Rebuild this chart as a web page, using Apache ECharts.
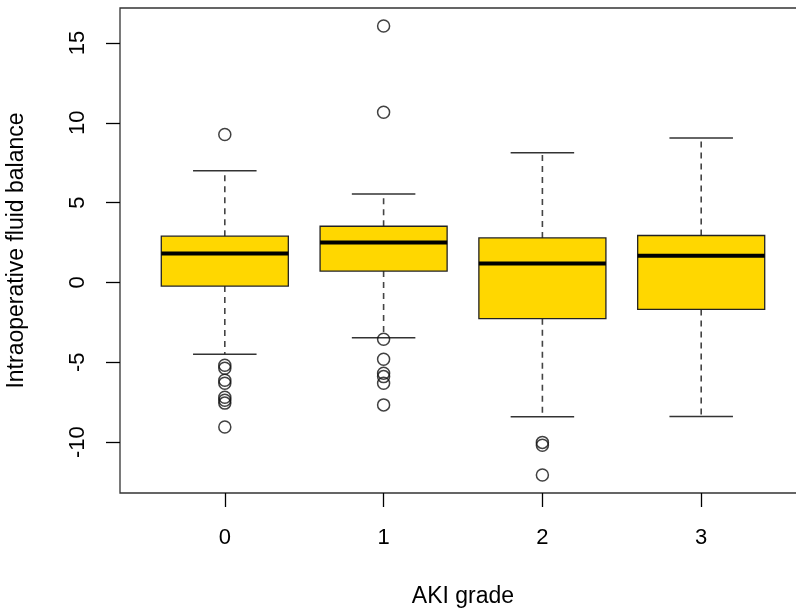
<!DOCTYPE html>
<html>
<head>
<meta charset="utf-8">
<script src="https://cdn.jsdelivr.net/npm/echarts@6/dist/echarts.min.js"></script>
<style>html,body{margin:0;padding:0;background:#fff;}#chart{width:796px;height:614px;}</style>
</head>
<body>
<div id="chart"></div>
<script>
// ---- data ----
const categories = ['0', '1', '2', '3'];
const lowerWhisker = [-4.5, -3.46, -8.42, -8.4];
const q1 = [-0.23, 0.71, -2.27, -1.69];
const median = [1.81, 2.5, 1.19, 1.67];
const q3 = [2.9, 3.52, 2.79, 2.94];
const upperWhisker = [7.0, 5.54, 8.13, 9.04];
const outliers0 = [9.27, -5.19, -5.38, -6.13, -6.31, -7.19, -7.38, -7.56, -9.06];
const outliers1 = [16.06, 10.66, -3.56, -4.81, -5.69, -5.9, -6.31, -7.67];
const outliers2 = [-10.02, -10.2, -12.06];
const outliers3 = [];
const yTicks = [-10, -5, 0, 5, 10, 15];
const xTicks = [0, 1, 2, 3];

const outlierGroups = [outliers0, outliers1, outliers2, outliers3];
const boxData = categories.map((c, i) => [i, lowerWhisker[i], q1[i], median[i], q3[i], upperWhisker[i]]);
const outlierData = [];
outlierGroups.forEach((g, i) => g.forEach(v => outlierData.push([i, v])));

const FONT = "'Liberation Sans', Arial, Helvetica, sans-serif";
const BOX_WIDTH = 0.8;

const chart = echarts.init(document.getElementById('chart'), null, {renderer: 'canvas'});
chart.setOption({
  backgroundColor: '#fff',
  animation: false,
  grid: {left: 120, top: 8, right: -10, bottom: 121, outerBoundsMode: 'none', containLabel: false,
    show: true, borderColor: '#333', borderWidth: 1.3, backgroundColor: 'transparent'},
  xAxis: {
    type: 'value', min: -0.66, max: 3.66,
    name: 'AKI grade', nameLocation: 'middle', nameGap: 92,
    nameTextStyle: {fontSize: 23, color: '#000', fontFamily: FONT},
    axisLine: {show: false, onZero: false},
    splitLine: {show: false},
    axisTick: {show: true, length: 14, customValues: xTicks, lineStyle: {color: '#000', width: 1.3}},
    axisLabel: {customValues: xTicks, margin: 34, fontSize: 22, color: '#000', fontFamily: FONT,
      formatter: v => categories[Math.round(v)]}
  },
  yAxis: {
    type: 'value', min: -13.19, max: 17.19,
    name: 'Intraoperative fluid balance', nameLocation: 'middle', nameGap: 92,
    nameTextStyle: {fontSize: 23, color: '#000', fontFamily: FONT},
    axisLine: {show: false, onZero: false},
    splitLine: {show: false},
    axisTick: {show: true, length: 14, customValues: yTicks, lineStyle: {color: '#000', width: 1.3}},
    axisLabel: {customValues: yTicks, rotate: 90, margin: 31, fontSize: 22, color: '#000', fontFamily: FONT}
  },
  series: [
    {
      type: 'custom',
      data: boxData,
      dimensions: ['x', 'low', 'q1', 'median', 'q3', 'high'],
      encode: {x: 0, y: [1, 2, 3, 4, 5]},
      renderItem: function (params, api) {
        const x = api.value(0);
        const lo = api.coord([x, api.value(1)]);
        const b1 = api.coord([x, api.value(2)]);
        const md = api.coord([x, api.value(3)]);
        const b3 = api.coord([x, api.value(4)]);
        const hi = api.coord([x, api.value(5)]);
        const bw = api.size([BOX_WIDTH, 0])[0];
        const cw = bw * 0.5;
        const cx = lo[0];
        const dash = {stroke: '#444', lineWidth: 1.6, lineDash: [6, 5]};
        const solid = {stroke: '#333', lineWidth: 1.5};
        return {
          type: 'group',
          children: [
            {type: 'line', shape: {x1: cx, y1: b3[1], x2: cx, y2: hi[1]}, style: dash},
            {type: 'line', shape: {x1: cx, y1: b1[1], x2: cx, y2: lo[1]}, style: dash},
            {type: 'line', shape: {x1: cx - cw / 2, y1: hi[1], x2: cx + cw / 2, y2: hi[1]}, style: solid},
            {type: 'line', shape: {x1: cx - cw / 2, y1: lo[1], x2: cx + cw / 2, y2: lo[1]}, style: solid},
            {type: 'rect', shape: {x: cx - bw / 2, y: b3[1], width: bw, height: b1[1] - b3[1]},
              style: {fill: '#FFD700', stroke: '#222', lineWidth: 1.3}},
            {type: 'line', shape: {x1: cx - bw / 2, y1: md[1], x2: cx + bw / 2, y2: md[1]},
              style: {stroke: '#000', lineWidth: 4}}
          ]
        };
      }
    },
    {
      type: 'scatter',
      data: outlierData,
      symbol: 'circle',
      symbolSize: 12,
      itemStyle: {color: 'rgba(0,0,0,0)', borderColor: '#111', borderWidth: 1.5}
    }
  ]
});
</script>
</body>
</html>
